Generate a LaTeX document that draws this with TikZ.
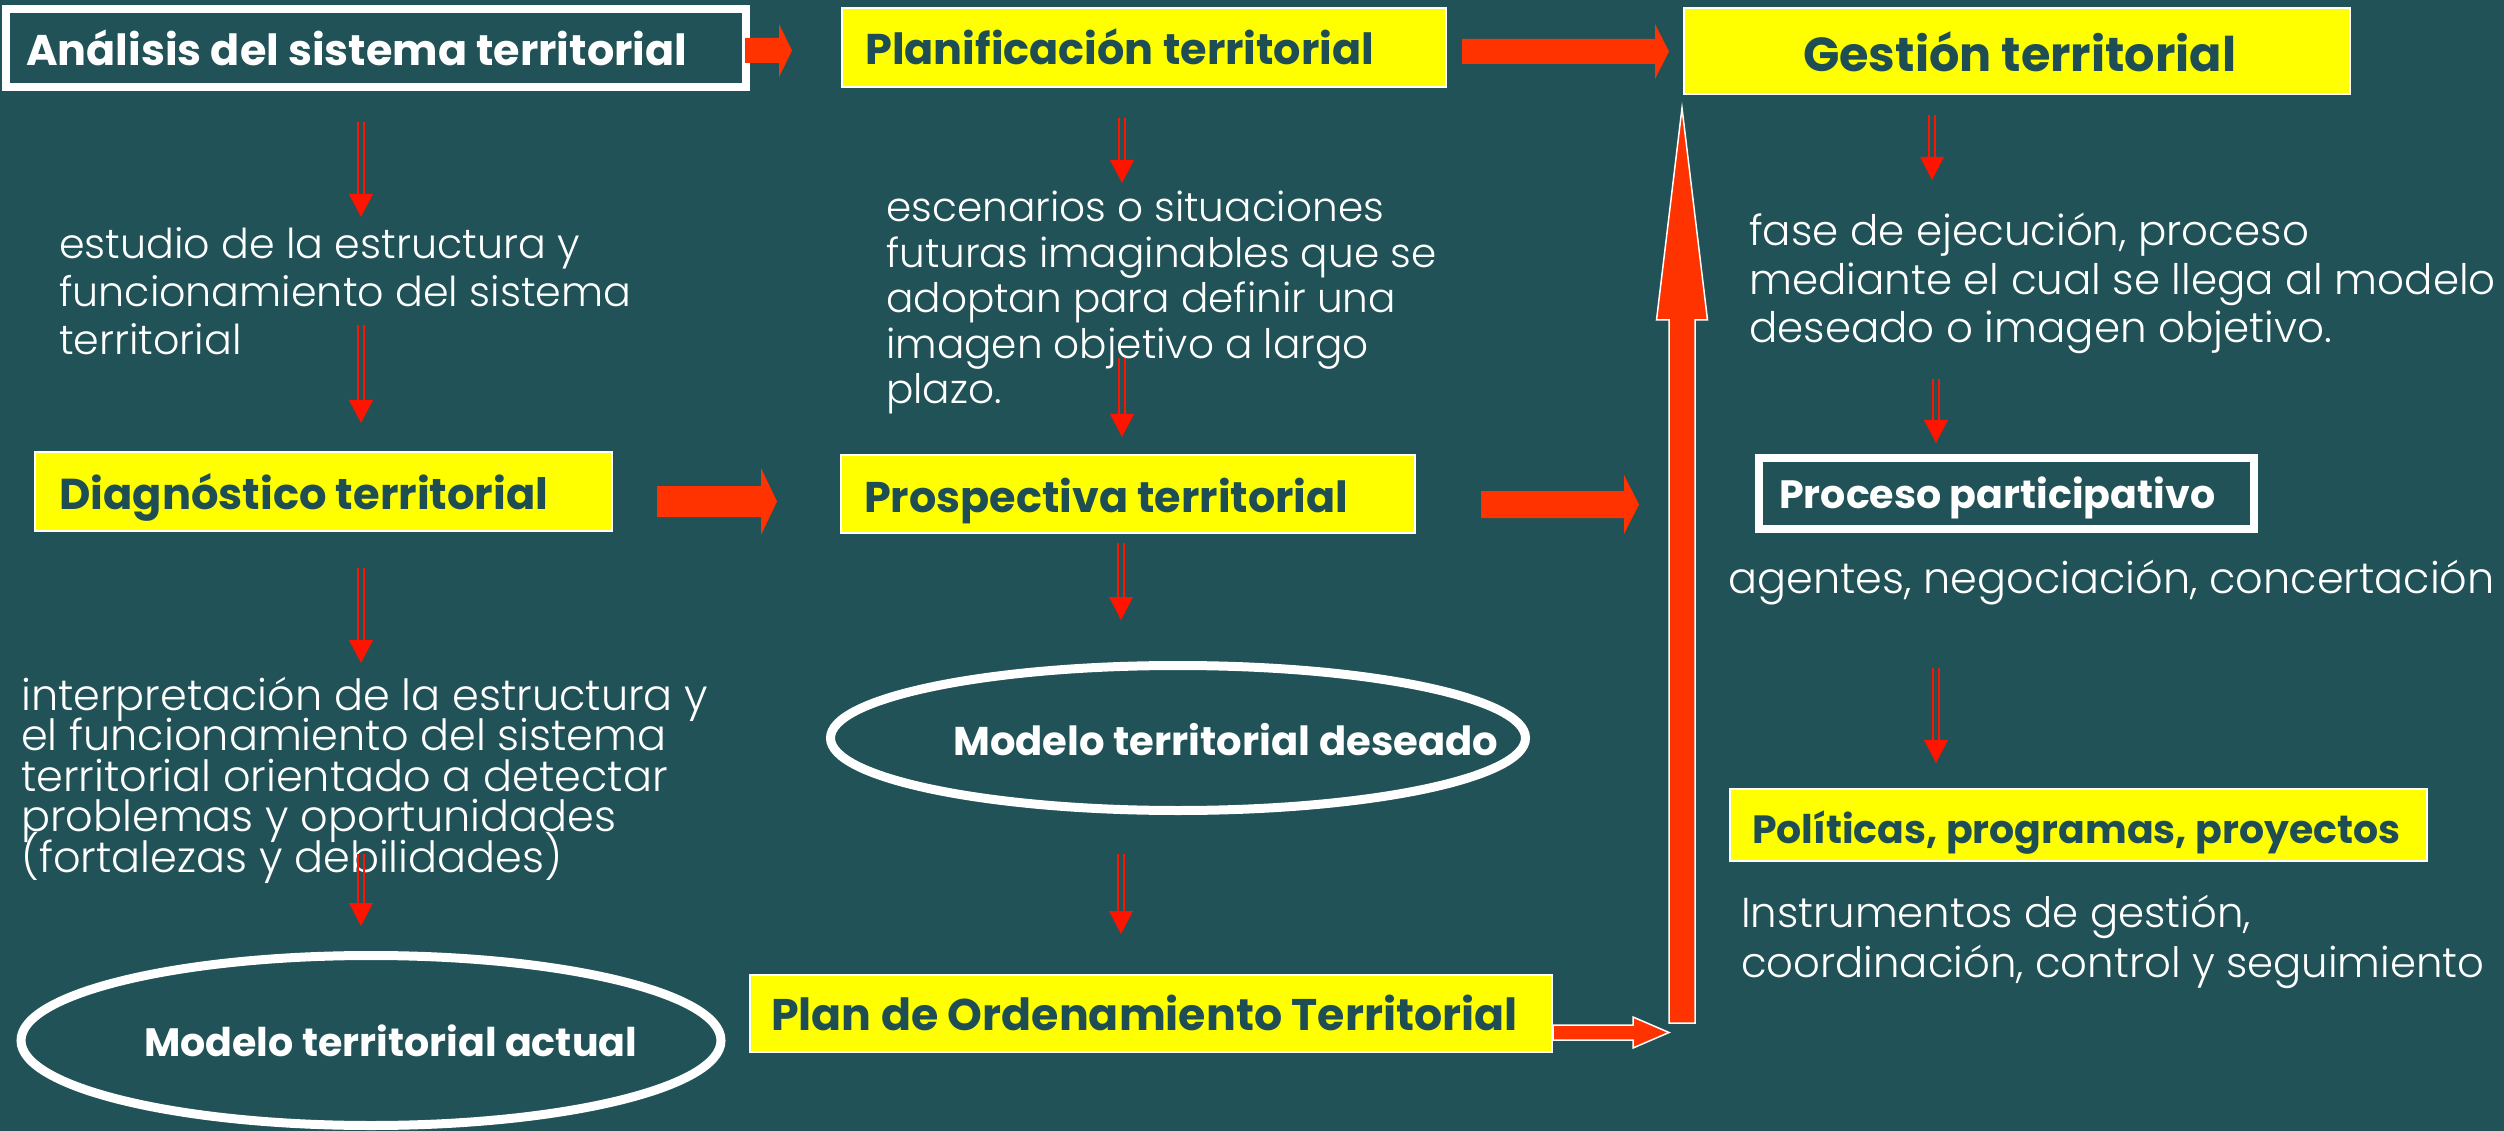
\documentclass[tikz,border=0pt]{standalone}
\usepackage{fontspec}
\setmainfont{Poppins}
\newfontfamily\lightf{Poppins Light}
\usetikzlibrary{calc,shapes.geometric}
\definecolor{bg}{RGB}{32,82,87}
\definecolor{boxtxt}{RGB}{30,78,84}
\definecolor{ylw}{RGB}{255,255,0}
\definecolor{arr}{RGB}{255,51,0}
\definecolor{dred}{RGB}{255,20,0}
\newcommand\hd[2]{\resizebox{#1pt}{!}{\bfseries #2}}
\newcommand\txtlines[2]{\vtop{\baselineskip=#1pt\lineskiplimit=-1000pt\lineskip=0pt #2}}
\newcommand\barrow[6][]{%
  \path[blockarr,#1] ($(#2)+(0,-#4)$) -- ($(#3)+(-#6,-#4)$) -- ($(#3)+(-#6,-#5)$) -- (#3)
     -- ($(#3)+(-#6,#5)$) -- ($(#3)+(-#6,#4)$) -- ($(#2)+(0,#4)$) -- cycle;}
\newcommand\dblarrow[2]{%
  \draw[dblline] ($(#1)+(-3,0)$) -- ($(#2)+(-3,-22)$);
  \draw[dblline] ($(#1)+(3,0)$) -- ($(#2)+(3,-22)$);
  \fill[dred] ($(#2)+(-12,-23)$) -- (#2) -- ($(#2)+(12,-23)$) -- cycle;}
\begin{document}
\begin{tikzpicture}[x=1pt,y=-1pt,
  ybox/.style={rectangle,fill=ylw,draw=white,line width=2pt,inner sep=0pt},
  wbox/.style={rectangle,draw=white,line width=8pt,inner sep=0pt},
  oval/.style={ellipse,draw=white,line width=9pt,inner sep=0pt},
  hdtxt/.style={anchor=base west,inner sep=0pt},
  body/.style={anchor=base west,inner sep=0pt,text=white},
  fs/.style={font=\lightf\fontsize{#1pt}{48pt}\selectfont},
  blockarr/.style={fill=arr},
  blockarrw/.style={fill=arr,draw=white,line width=1.5pt},
  dblline/.style={draw=dred,line width=2.7pt}]
\useasboundingbox (0,0) rectangle (2504,1131);
\fill[bg] (0,0) rectangle (2504,1131);

% boxes
\node[wbox,minimum width=740pt,minimum height=78pt] (ana) at (376,48) {};
\node[ybox,minimum width=604pt,minimum height=79pt] (plan) at (1144,47.5) {};
\node[ybox,minimum width=666pt,minimum height=86pt] (gest) at (2017,51) {};
\node[ybox,minimum width=577pt,minimum height=79pt] (diag) at (323.5,491.5) {};
\node[ybox,minimum width=574pt,minimum height=78pt] (prosp) at (1128,494) {};
\node[wbox,minimum width=495pt,minimum height=71pt] (proc) at (2006.5,493.5) {};
\node[ybox,minimum width=697pt,minimum height=72pt] (pol) at (2078.5,825) {};
\node[ybox,minimum width=802pt,minimum height=77pt] (pot) at (1151,1013.5) {};
\node[oval,minimum width=700pt,minimum height=170pt] (mta) at (371,1040.5) {};
\node[oval,minimum width=695pt,minimum height=145pt] (mtd) at (1178,738) {};

% headings
\node[hdtxt,text=white] (anaT) at (26,66) {\hd{661}{Análisis del sistema territorial}};
\node[hdtxt,text=boxtxt] (planT) at (865,65) {\hd{509}{Planificación territorial}};
\node[hdtxt,text=boxtxt] (gestT) at (1803,72) {\hd{433}{Gestión territorial}};
\node[hdtxt,text=boxtxt] (diagT) at (59,509) {\hd{489}{Diagnóstico territorial}};
\node[hdtxt,text=boxtxt] (prospT) at (864,512) {\hd{484}{Prospectiva territorial}};
\node[hdtxt,text=white] (procT) at (1779,508) {\hd{436}{Proceso participativo}};
\node[hdtxt,text=boxtxt] (polT) at (1752,843) {\hd{648}{Políticas, programas, proyectos}};
\node[hdtxt,text=white] (mtdT) at (953,755) {\hd{545}{Modelo territorial deseado}};
\node[hdtxt,text=white] (mtaT) at (144,1056) {\hd{493}{Modelo territorial actual}};
\node[hdtxt,text=boxtxt] (potT) at (771,1030) {\hd{746}{Plan de Ordenamiento Territorial}};

% body texts
\node[body,fs=41.2] (tA) at (59,259) {\txtlines{48}{\hbox{estudio de la estructura y}\hbox{funcionamiento del sistema}\hbox{territorial}}};
\node[body,fs=43] (tB) at (21,710) {\txtlines{40.5}{\hbox{interpretación de la estructura y}\hbox{el funcionamiento del sistema}\hbox{territorial orientado a detectar}\hbox{problemas y oportunidades}\hbox{(fortalezas y debilidades)}}};
\node[body,fs=40.6] (tC) at (886,222) {\txtlines{45.5}{\hbox{escenarios o situaciones}\hbox{futuras imaginables que se}\hbox{adoptan para definir una}\hbox{imagen objetivo a largo}\hbox{plazo.}}};
\node[body,fs=42] (tD) at (1749,246) {\txtlines{48.5}{\hbox{fase de ejecución, proceso}\hbox{mediante el cual se llega al modelo}\hbox{deseado o imagen objetivo.}}};
\node[body,fs=43] (tE) at (1728,593) {agentes, negociación, concertación};
\node[body,fs=41.8] (tF) at (1741,927) {\txtlines{50}{\hbox{Instrumentos de gestión,}\hbox{coordinación, control y seguimiento}}};

% block arrows
\coordinate (h1s) at (745,50.5);  \coordinate (h1e) at (792,50.5);
\coordinate (h2s) at (1462,51.5); \coordinate (h2e) at (1669,51.5);
\coordinate (h3s) at (657,501.5); \coordinate (h3e) at (777,501.5);
\coordinate (h4s) at (1481,504.5);\coordinate (h4e) at (1639,504.5);
\coordinate (h5s) at (pot.east);  \coordinate (h5e) at (1669,1032.5);
\barrow{h1s}{h1e}{12.5}{26.5}{13}
\barrow{h2s}{h2e}{12.5}{27.5}{14}
\barrow{h3s}{h3e}{15.5}{33.5}{16}
\barrow{h4s}{h4e}{13.5}{29.5}{15}
\barrow[blockarrw]{h5s |- h5e}{h5e}{7.5}{15.5}{36}
\coordinate (vs) at (1682,1023); \coordinate (ve) at (1682,108);
\path[blockarrw] ($(vs)+(-13,0)$) -- ($(ve)+(-13,212)$) -- ($(ve)+(-25.5,212)$) -- (ve)
   -- ($(ve)+(25.5,212)$) -- ($(ve)+(13,212)$) -- ($(vs)+(13,0)$) -- cycle;

% double arrows
\coordinate (as) at (361,122);  \coordinate (ae) at (361,217);
\coordinate (bs) at (361,325);  \coordinate (be) at (361,423);
\coordinate (cs) at (361,568);  \coordinate (ce) at (361,663);
\coordinate (ds) at (361,854);  \coordinate (de) at (361,926);
\coordinate (es) at (1122,118); \coordinate (ee) at (1122,183);
\coordinate (fs) at (1122,358); \coordinate (fe) at (1122,437);
\coordinate (gs) at (1121,543); \coordinate (ge) at (1121,620);
\coordinate (hs) at (1121,854); \coordinate (he) at (1121,934);
\coordinate (is) at (1932,115); \coordinate (ie) at (1932,180);
\coordinate (js) at (1936,379); \coordinate (je) at (1936,443);
\coordinate (ks) at (1936,668); \coordinate (ke) at (1936,763);
\dblarrow{as}{ae}
\dblarrow{bs}{be}
\dblarrow{cs}{ce}
\dblarrow{ds}{de}
\dblarrow{es}{ee}
\dblarrow{fs}{fe}
\dblarrow{gs}{ge}
\dblarrow{hs}{he}
\dblarrow{is}{ie}
\dblarrow{js}{je}
\dblarrow{ks}{ke}
\end{tikzpicture}
\end{document}
